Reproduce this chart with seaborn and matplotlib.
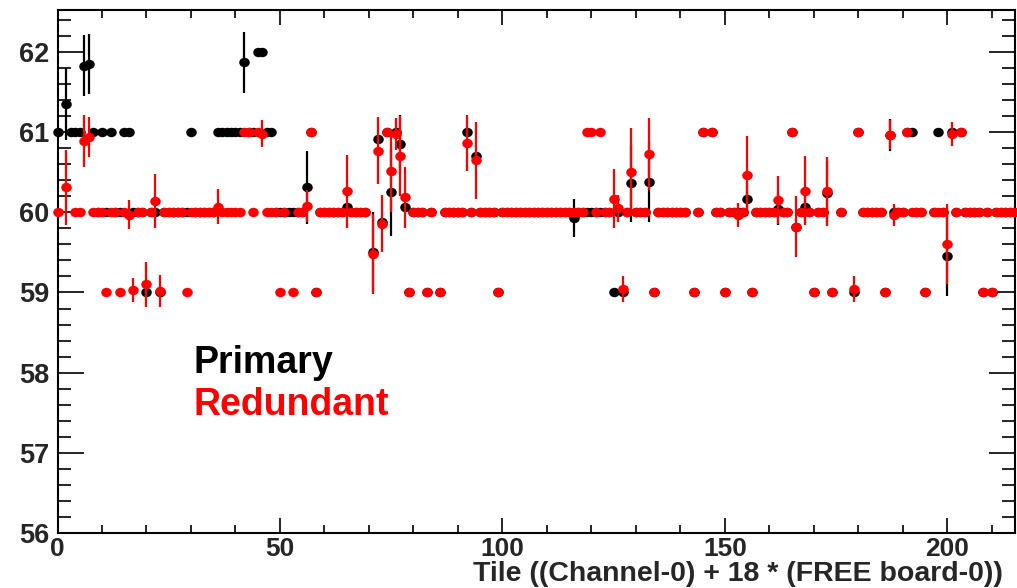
import numpy as np
import pandas as pd
import matplotlib
matplotlib.use("Agg")
import matplotlib.pyplot as plt
from matplotlib.ticker import MultipleLocator
from matplotlib.markers import MarkerStyle
from matplotlib.transforms import Affine2D
import seaborn as sns

nan = np.nan

# tile index = (channel) + 18 * (FREE board), 12 boards x 18 channels
tiles = list(range(216))

primary = [
    61, nan, 61.35, 61, 61, 61, 61.83, 61.85, 61, 60, 61, 60, 61, 60, 60, 61, 61, 60,
    60, 60, 59.0, 60, 60, 59.0, 60, 60, 60, 60, 60, 60, 61, 60, 60, 60, 60, 60,
    61, 61, 61, 61, 61, 61, 61.87, 61, 61, 62, 62, 61, 61, 60, 60, 60, 60, 60,
    60, 60, 60.31, 61, 59, 60, 60, 60, 60, 60, 60, 60.07, 60, 60, 60, 60, nan, 59.5,
    60.92, 59.88, 61, 60.25, 61, 60.85, 60.07, 59, 60, 60, 60, 59, 60, nan, 59, 60, 60, 60,
    60, 60, 61, 60, 60.7, 60, 60, 60, 60, 59, 60, 60, 60, 60, 60, 60, 60, 60,
    60, 60, 60, 60, 60, 60, 60, 60, 59.93, 60, 60, 60, 60, 60, 60, 60, 60, 59,
    60, 59, 60, 60.36, 60, 60, 60, 60.38, 59, 60, 60, 60, 60, 60, 60, 60, nan, 59,
    60, 61, nan, 61, 60, 60, 59, 60, 60, 60, 60, 60.16, 59, 60, 60, 60, 60, 60,
    60.04, 60, 60, 61, 59.82, 60, 60.07, 60, 59, 60, 60, 60.24, 59, nan, 60, nan, nan, 59,
    61, 60, 60, 60, 60, 60, 59, 60.97, 60, 60, 60, 61, 61, 60, 60, 59, nan, 60,
    61, 60, 59.46, 61, 60, 61, 60, 60, 60, 60, 59, 60, 59, 60, 60, 60, 60, 60,
]

redundant = [
    60, nan, 60.31, nan, 60, 60, 60.89, 60.94, 60, 60, 60, 59, 60, 60, 59, 60, 59.97, 59.03,
    60, 60, 59.1, 60, 60.14, 59.02, 60, 60, 60, 60, 60, 59, 60, 60, 60, 60, 60, 60,
    60.07, 60, 60, 60, 60, 60, 61, 61, 60, 61, 60.98, 60, 60, 60, 59, 60, nan, 59,
    60, 60, 60.08, 61, 59, 60, 60, 60, 60, 60, 60, 60.26, 60, 60, 60, 60, nan, 59.48,
    60.77, 59.86, 61, 60.51, 60.98, 60.70, 60.19, 59, 60, 60, 60, 59, 60, nan, 59, 60, 60, 60,
    60, 60, 60.87, 60, 60.65, 60, 60, 60, 60, 59, 60, 60, 60, 60, 60, 60, 60, 60,
    60, 60, 60, 60, 60, 60, 60, 60, 60, 60, 60, 61, 61, 60, 61, 60, 60, 60.17,
    60.05, 59.04, 60, 60.5, 60, 60, 60, 60.73, 59, 60, 60, 60, 60, 60, 60, 60, nan, 59,
    60, 61, nan, 61, 60, 60, 59, 60, 60, 59.97, 60, 60.47, 59, 60, 60, 60, 60, 60,
    60.15, 60, 60, 61, 59.82, 60, 60.27, 60, 59, 60, 60, 60.26, 59, nan, 60, nan, nan, 59.04,
    61, 60, 60, 60, 60, 60, 59, 60.97, 59.97, 60, 60, 61, 60, 60, 60, 59, nan, 60,
    60, 60, 59.6, 60.98, 60, 61, 60, 60, 60, 60, 59, 60, 59, 60, 60, 60, 60, 60,
]

# error bars (only the tiles where they are visible)
primary_err_tiles = [2, 6, 7, 42, 56, 71, 75, 77, 116, 129, 133, 155, 162, 168, 173, 187, 200]
primary_err = [0.45, 0.38, 0.37, 0.38, 0.45, 0.5, 0.55, 0.36, 0.24, 0.48, 0.5, 0.2, 0.2, 0.2, 0.4, 0.2, 0.5]

redundant_err_tiles = [2, 6, 7, 16, 17, 20, 22, 23, 36, 46, 56, 65, 71, 72, 73, 75, 76, 77, 78, 92,
                       94, 125, 126, 127, 129, 133, 153, 155, 162, 166, 168, 173, 179, 187, 188, 200, 201]
redundant_err = [0.47, 0.32, 0.25, 0.18, 0.15, 0.28, 0.34, 0.2, 0.22, 0.17, 0.2, 0.45, 0.5, 0.42, 0.35,
                 0.5, 0.2, 0.5, 0.38, 0.35, 0.48, 0.37, 0.17, 0.16, 0.55, 0.45, 0.15, 0.48, 0.3, 0.38,
                 0.43, 0.43, 0.16, 0.18, 0.14, 0.5, 0.15]


def tabla(valores, err_tiles, errs, nombre):
    df = pd.DataFrame({"tile": tiles, "value": valores, "serie": nombre})
    df["err"] = 0.0
    df.loc[df["tile"].isin(err_tiles), "err"] = pd.Series(errs, index=err_tiles)
    return df.dropna(subset=["value"])


df_p = tabla(primary, primary_err_tiles, primary_err, "Primary")
df_r = tabla(redundant, redundant_err_tiles, redundant_err, "Redundant")

sns.set_style("ticks")
plt.rcParams["font.family"] = ["Liberation Sans", "DejaVu Sans"]
plt.rcParams["font.weight"] = "bold"

fig = plt.figure(figsize=(10.17, 5.88), dpi=100)
ax = fig.add_axes([57.5 / 1017, 1 - 533 / 588, (1015 - 57.5) / 1017, (533 - 9.5) / 588])

# marcador algo más ancho que alto, como en el original
marcador = MarkerStyle("o", transform=Affine2D().scale(1.12, 1.0))
z = 2
for df, color in [(df_p, "black"), (df_r, "red")]:
    con_err = df[df["err"] > 0]
    ax.errorbar(con_err["tile"], con_err["value"], yerr=con_err["err"], fmt="none",
                ecolor=color, elinewidth=1.6, capsize=0, zorder=z)
    sns.scatterplot(data=df, x="tile", y="value", color=color, marker=marcador, s=46,
                    linewidth=0, ax=ax, legend=False, zorder=z + 1, clip_on=False)
    z += 2

ax.set_xlim(0, 215.2)
ax.set_ylim(56, 62.53)
ax.xaxis.set_major_locator(MultipleLocator(50))
ax.xaxis.set_minor_locator(MultipleLocator(10))
ax.yaxis.set_major_locator(MultipleLocator(1))
ax.yaxis.set_minor_locator(MultipleLocator(0.2))
ax.tick_params(axis="both", which="both", direction="in", top=True, right=True,
               width=1.2, color="black")
ax.tick_params(axis="x", which="major", length=11, labelsize=19, pad=3)
ax.tick_params(axis="x", which="minor", length=6)
ax.tick_params(axis="y", which="major", length=19, labelsize=19.5, pad=6)
ax.tick_params(axis="y", which="minor", length=9.5)
for s in ax.spines.values():
    s.set_linewidth(1.5)
    s.set_color("black")

ax.set_xlabel("")
ax.set_ylabel("")
fig.text(1003 / 1017, 1 - 581 / 588, "Tile ((Channel-0) + 18 * (FREE board-0))",
         ha="right", va="baseline", fontsize=20.5, fontweight="bold")

ax.text(30.5, 58.0, "Primary", color="black", fontsize=27, fontweight="bold", va="baseline")
ax.text(30.5, 57.47, "Redundant", color="red", fontsize=27, fontweight="bold", va="baseline")

fig.savefig("out.png", dpi=100)
